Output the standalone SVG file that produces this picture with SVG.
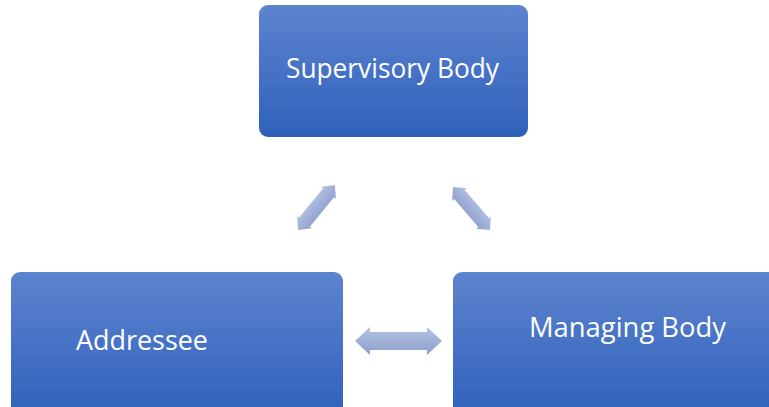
<svg xmlns="http://www.w3.org/2000/svg" width="769" height="407" viewBox="0 0 769 407">
<defs>
<linearGradient id="boxg" x1="0" y1="0" x2="0" y2="1">
<stop offset="0" stop-color="#5d84cd"/>
<stop offset="0.5" stop-color="#4672c6"/>
<stop offset="1" stop-color="#2f61ba"/>
</linearGradient>
<linearGradient id="arrg" x1="0" y1="0" x2="0" y2="1">
<stop offset="0" stop-color="#b3c1e2"/>
<stop offset="1" stop-color="#8e9fcd"/>
</linearGradient>
<style>
.box{fill:url(#boxg);}
.lbl{font-family:"Open Sans","Liberation Sans",sans-serif;font-size:27px;fill:#ffffff;}
.arr{fill:url(#arrg);}
</style>
</defs>
<g id="supervisory">
<rect class="box" x="259" y="5" width="269" height="132" rx="9"/>
<text class="lbl" x="286" y="78" textLength="213" lengthAdjust="spacingAndGlyphs">Supervisory Body</text>
</g>
<g id="addressee">
<rect class="box" x="11" y="272" width="332" height="145" rx="9"/>
<text class="lbl" x="76" y="350" textLength="132" lengthAdjust="spacingAndGlyphs">Addressee</text>
</g>
<g id="managing">
<rect class="box" x="453" y="272" width="325" height="145" rx="9"/>
<text class="lbl" x="529" y="337" textLength="197" lengthAdjust="spacingAndGlyphs">Managing Body</text>
</g>
<g id="connectors">
<polygon class="arr" transform="translate(316.5,207.5) rotate(-50.6)" points="-29,0 -19,-9.5 -19,-7 19,-7 19,-9.5 29,0 19,9.5 19,7 -19,7 -19,9.5"/>
<polygon class="arr" transform="translate(471.5,208.5) rotate(49.3)" points="-28.5,0 -18.5,-9.5 -18.5,-7 18.5,-7 18.5,-9.5 28.5,0 18.5,9.5 18.5,7 -18.5,7 -18.5,9.5"/>
<polygon class="arr" points="355,341 370,327 370,332 427,332 427,327 442,341 427,355 427,350 370,350 370,355"/>
</g>
</svg>
